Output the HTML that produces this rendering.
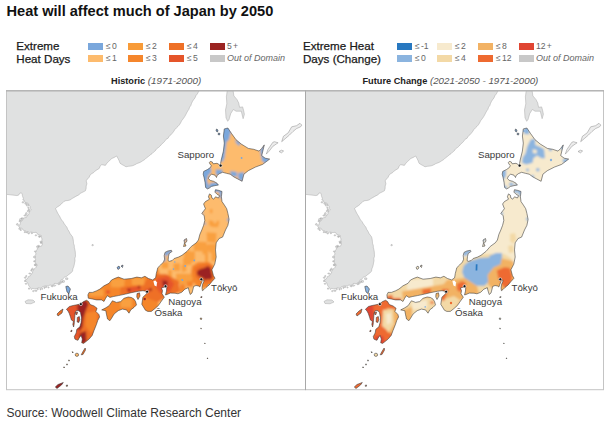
<!DOCTYPE html>
<html><head><meta charset="utf-8">
<style>
html,body{margin:0;padding:0;background:#fff;width:610px;height:422px;overflow:hidden}
body{position:relative;font-family:"Liberation Sans",sans-serif;color:#222}
.t{position:absolute;white-space:nowrap;line-height:1}
.hd{font-size:11.6px;color:#1a1a1a;-webkit-text-stroke:0.25px #1a1a1a}
.sw{position:absolute;width:15px;height:7px}
.cl{position:absolute;white-space:nowrap;line-height:1;font-size:9.7px;color:#3a3a3a}
.lb{position:absolute;white-space:nowrap;line-height:1;font-size:8.6px;color:#666;word-spacing:-1.2px}
</style></head><body>
<div class="t" style="left:6.5px;top:4px;font-size:14.6px;font-weight:bold;color:#111">Heat will affect much of Japan by 2050</div>

<div class="t hd" style="left:16.3px;top:39.8px">Extreme</div>
<div class="t hd" style="left:16.3px;top:52.5px">Heat Days</div>

<div class="sw" style="left:88px;top:43px;background:#7aa7dc"></div><div class="lb" style="left:106px;top:42px">≤ 0</div>
<div class="sw" style="left:88px;top:55px;background:#fdbb6d"></div><div class="lb" style="left:106px;top:54px">≤ 1</div>
<div class="sw" style="left:128px;top:43px;background:#f89b38"></div><div class="lb" style="left:146px;top:42px">≤ 2</div>
<div class="sw" style="left:128px;top:55px;background:#f5862c"></div><div class="lb" style="left:146px;top:54px">≤ 3</div>
<div class="sw" style="left:169px;top:43px;background:#ee7026"></div><div class="lb" style="left:187px;top:42px">≤ 4</div>
<div class="sw" style="left:169px;top:55px;background:#e5552a"></div><div class="lb" style="left:187px;top:54px">≤ 5</div>
<div class="sw" style="left:210px;top:43px;background:#9b2421"></div><div class="lb" style="left:227px;top:42px">5 +</div>
<div class="sw" style="left:210px;top:55px;background:#c8c8c8"></div><div class="lb" style="left:227px;top:54px;font-style:italic;font-size:9px;word-spacing:0">Out of Domain</div>

<div class="t hd" style="left:303px;top:39.8px">Extreme Heat</div>
<div class="t hd" style="left:303px;top:52.5px">Days (Change)</div>

<div class="sw" style="left:397px;top:43px;background:#2878c0"></div><div class="lb" style="left:415px;top:42px">≤ -1</div>
<div class="sw" style="left:397px;top:55px;background:#8bb4df"></div><div class="lb" style="left:415px;top:54px">≤ 0</div>
<div class="sw" style="left:437px;top:43px;background:#f7eace"></div><div class="lb" style="left:455px;top:42px">≤ 2</div>
<div class="sw" style="left:437px;top:55px;background:#f3d9a6"></div><div class="lb" style="left:455px;top:54px">≤ 4</div>
<div class="sw" style="left:478px;top:43px;background:#f2b264"></div><div class="lb" style="left:496px;top:42px">≤ 8</div>
<div class="sw" style="left:478px;top:55px;background:#ee6a30"></div><div class="lb" style="left:496px;top:54px">≤ 12</div>
<div class="sw" style="left:519px;top:43px;background:#e04532"></div><div class="lb" style="left:536px;top:42px">12 +</div>
<div class="sw" style="left:519px;top:55px;background:#c8c8c8"></div><div class="lb" style="left:536px;top:54px;font-style:italic;font-size:9px;word-spacing:0">Out of Domain</div>

<div class="t" style="left:111px;top:76px;font-size:9.2px;color:#222"><b>Historic</b> <i style="color:#555;font-size:9.8px">(1971-2000)</i></div>
<div class="t" style="left:362.5px;top:76px;font-size:9.2px;color:#222"><b>Future Change</b> <i style="color:#555;font-size:9.75px">(2021-2050 - 1971-2000)</i></div>

<svg style="position:absolute;left:0;top:0" width="610" height="422" viewBox="0 0 610 422">
<defs><filter id="bl" x="-5%" y="-5%" width="110%" height="110%"><feGaussianBlur stdDeviation="0.9"/></filter><clipPath id="pc"><rect x="6.5" y="91" width="299" height="299"/></clipPath><clipPath id="jp"><path d="M224.3,128.9 L227.9,128 L231.4,133.3 L235.9,139.6 L241.2,144 L248.3,148.4 L253.7,149.3 L259,151.1 L261.7,148.4 L264.3,144.9 L262.6,152 L261.7,155.6 L265.2,158.2 L269.7,159.1 L266.1,161.8 L262.6,164.4 L255.4,167.1 L248.3,170.7 L243.9,174.2 L242.1,181.3 L237.8,179 L234,177 L230.2,174.2 L226.4,173.3 L222.6,172.3 L219.3,173.7 L217,175.6 L216.5,177.5 L215,175.2 L211.7,174.2 L209.4,176.1 L208.4,178.5 L210.3,180.4 L213.6,181.3 L217,183.2 L218.4,185.1 L215,185.6 L211.3,186.5 L209.4,188 L207.5,188.9 L205.6,187.5 L205.1,182.7 L204.2,178 L203.2,174.2 L203.7,171.4 L207.5,169.5 L210.3,167.6 L211.3,165.7 L209.8,163.8 L209.4,162.4 L210.3,161.4 L212.2,161.9 L213.2,163.8 L217,163.3 L220.3,165.2 L221.2,160 L223.4,151.1 L224.3,143.1 L223.4,136 Z"/><path d="M209.5,193.9 L211.3,195.1 L211.9,198 L213.7,199.2 L215.5,196.8 L218.4,198 L219.6,195.7 L217.3,194.5 L214.9,192.1 L215.5,189.7 L218.4,190.3 L222,191.5 L221.4,196.8 L222,201.6 L224.4,205.1 L226.7,208.7 L227.9,213.4 L229.1,219.4 L227.9,225.3 L225.5,230 L222.6,237.1 L219.1,238.5 L216.2,242.8 L215.5,249.9 L216.2,257 L214.8,264.1 L211.9,269.8 L213.4,275.5 L215,278.2 L212,281.5 L209.2,284.9 L206,287.5 L204,289.5 L202.4,290.7 L202,288 L202.5,284.5 L204,281 L203.5,279.8 L202,281.5 L200.8,284.4 L199.8,287 L198.5,286 L196,285.5 L193.6,286.5 L193.2,288.5 L192,293 L190.2,294.5 L189,290.7 L188.3,287.7 L184.8,289.2 L181.8,292.2 L178,293.8 L175,293.2 L170.3,293.1 L167,294.5 L165.5,294.9 L166.5,291 L166.7,287.5 L165.5,286.8 L163,287.5 L161.4,288 L162.5,290.5 L162,293.7 L164.3,297.2 L161.5,301 L158.4,305.5 L155,308.5 L151.3,311.4 L147.8,311.4 L145.4,310.2 L141.8,304.3 L142.9,297.2 L146.6,293.7 L146,291.3 L143,290.7 L138.3,291.3 L131.2,292.7 L125.5,294.1 L118.4,295.6 L113.2,296.6 L109.9,297.4 L107.4,295.7 L105.7,298.2 L104,301.5 L101.6,299.9 L96.6,299.9 L92.4,299 L88.3,298.2 L87.9,294.9 L89.1,292.4 L92.4,292.4 L96.6,290.8 L99.9,289.1 L104,285.8 L109,283.3 L111.5,280 L115,278.3 L118.4,277.1 L124.1,279.2 L131.2,278.5 L136.9,277.1 L141.4,277.8 L144.9,276.3 L148.5,278.5 L152.7,279.9 L155.6,277.8 L156.3,273.5 L157.8,267.7 L160.7,264.9 L163.5,262 L164.6,259.2 L164.2,255.6 L165,252.4 L167.8,251 L171.3,250.3 L172.1,251.4 L169.2,253.5 L168.5,256.3 L168.1,260.6 L169.2,261.3 L172.1,260.6 L174.2,258.5 L178.5,257.1 L182,255.3 L187.1,251.3 L191.3,246.4 L196.3,242.8 L198.4,240 L199.9,234.3 L201.8,230 L203.6,225.3 L204.8,220.5 L204.2,215.8 L201.8,213.4 L205.4,208.7 L203.6,204 L205.4,201.6 L209.5,199.2 L208.4,196.8 Z"/><path d="M101.7,309.9 L105.8,307.8 L109.1,305.7 L112.4,300.8 L116.6,302.4 L120.7,301.6 L124,298.3 L128.2,297 L131.5,297.5 L134,299.1 L135.6,301.6 L136.5,304.9 L134,307.4 L130.7,309.9 L129,313.2 L126.5,309.9 L122.4,309.1 L118.2,310.7 L114.1,314 L111.6,318.2 L109.9,320.7 L107.5,319 L106.6,314.9 L105.8,310.7 Z"/><path d="M66.4,309.3 L69.4,306.5 L73.1,305.5 L76.8,304.8 L80.5,304 L83.6,301.5 L86.6,300.3 L88.5,301.5 L90.3,304.6 L94,305.9 L97.1,308.3 L95.9,311.4 L98.9,314.5 L99.6,316.9 L97.7,320.6 L96.5,324.3 L94,330.5 L92.2,335.4 L89.1,339.1 L86,341.6 L83.6,343.4 L81.7,342.8 L82.3,339.1 L81.1,335.4 L79.2,337.9 L78,340.3 L76.2,339.7 L74.9,339.1 L74.3,336.6 L76.2,332.9 L76.8,329.3 L79.9,326.8 L81.1,322.5 L81.5,318 L80.5,312.6 L79,310.8 L76.5,310.5 L75,313 L74.8,317 L74.5,320 L74.2,324 L73.6,327 L72.8,324.2 L73.5,321.4 L71.4,320 L70.5,317 L69.3,313.5 L68,311 Z"/><path d="M184,240 L186.5,238.5 L187,241 L185,243.5 L186,246 L183.5,246.5 L184.5,243 Z"/><path d="M137,293.5 L139.5,292.8 L140,296 L138,299.5 L136.8,297 Z"/><path d="M77.3,317.5 L79.3,316.5 L79.8,319.5 L78.8,322.5 L77.2,322 Z"/><path d="M75.5,312.5 L77.5,312 L77,314.5 L75.8,314.5 Z"/><path d="M216.5,129 L218,130 L217.5,132 L216,131 Z"/><path d="M218.5,133 L220,133.5 L219.5,135 L218,134.5 Z"/><path d="M65.8,286.5 L68,286 L70.4,289 L69,293.5 L67,292 Z"/><path d="M57,314 L60,311 L63,309 L62,313 L58,316 Z"/><path d="M117,267.5 L119,266 L120,268 L118,269.5 Z"/><path d="M121,266 L123,265 L122.5,267.5 Z"/><path d="M81.2,354.8 L83.5,350.5 L85.2,348 L85.5,350 L83,354.5 Z"/><path d="M75.2,354.8 A1.7,1.6 0 1,0 78.6,354.8 A1.7,1.6 0 1,0 75.2,354.8 Z"/><path d="M55.3,387 L58,384.5 L63.3,382.5 L61.5,385 L57,388.5 Z"/><path d="M66.3,385.2 L67.6,385 L67.4,386.3 L66.3,386.3 Z"/><path d="M72,351.8 L73.2,352 L72.8,353 Z"/><path d="M68.5,360 L69.5,360.2 L69,361.2 Z"/><path d="M66.5,364 L67.5,364 L67,365.2 Z"/><path d="M63.5,367 L64.5,367 L64.2,368 Z"/><path d="M70.5,331 L72,330 L71.5,332 Z"/><path d="M200.5,297 L202,296.5 L201.5,298 Z"/><path d="M200.3,318 L201.8,318.2 L201.5,319.5 L200.4,319.3 Z"/><path d="M200.6,328.2 L201.4,328.3 L201.2,329.1 Z"/><path d="M204.5,343.2 L205.2,343.3 L205,344 Z"/><path d="M207,358 L207.8,358.1 L207.6,358.9 Z"/></clipPath></defs>
<g transform="translate(0,0)">
<g clip-path="url(#pc)">
<rect x="5" y="90" width="302" height="302" fill="#fff"/>
<g fill="#e0e1e1" stroke="#a0a0a0" stroke-width="0.45">
<path d="M5.0,90.0 L199.5,90.0 L198.4,92.0 L197.3,94.0 L195.9,95.7 L195.0,97.9 L193.6,99.7 L192.4,101.6 L191.5,103.5 L190.8,105.5 L189.6,107.2 L188.9,109.3 L187.7,111.0 L186.6,113.0 L185.6,115.1 L184.4,117.1 L183.0,119.0 L181.6,120.8 L180.6,122.9 L179.4,124.8 L178.0,126.4 L176.4,127.9 L174.9,129.5 L173.7,131.4 L172.4,133.1 L171.0,134.8 L169.2,136.1 L168.1,138.2 L166.1,139.3 L164.8,141.2 L163.3,142.8 L161.6,144.2 L160.2,146.0 L158.5,147.5 L156.6,148.8 L155.4,150.7 L153.6,152.1 L152.0,153.7 L150.1,155.0 L148.3,156.6 L146.4,157.9 L144.7,159.6 L142.7,160.8 L140.9,162.0 L138.9,162.9 L136.8,163.6 L135.0,164.7 L133.0,165.6 L130.7,166.1 L128.3,166.3 L126.0,166.8 L124.0,165.6 L121.9,164.5 L120.0,163.2 L119.1,160.7 L117.9,158.3 L116.6,156.0 L114.3,157.4 L111.8,158.5 L110.2,160.0 L108.6,161.5 L107.0,163.0 L105.4,165.4 L101.5,164.6 L100.1,166.4 L99.2,168.5 L96.8,169.9 L94.6,171.5 L93.2,172.9 L91.3,173.8 L90.0,175.4 L89.0,177.4 L87.5,179.0 L86.2,180.8 L86.9,183.8 L86.2,186.1 L86.1,188.5 L85.4,190.8 L83.1,192.0 L80.8,193.1 L78.7,194.9 L76.2,196.2 L74.1,197.4 L72.0,198.6 L70.0,200.0 L67.9,200.5 L65.8,200.7 L63.8,201.5 L61.2,204.2 L59.4,205.7 L57.3,207.0 L55.5,208.5 L56.4,210.4 L57.3,212.3 L58.3,214.2 L59.5,216.1 L60.5,218.1 L61.6,220.0 L63.1,221.7 L64.2,223.7 L65.5,225.5 L66.9,227.2 L67.7,229.4 L69.0,231.3 L69.9,233.3 L71.2,235.1 L72.6,236.9 L73.1,239.0 L73.4,241.2 L73.5,243.3 L74.3,245.4 L74.4,247.6 L74.9,249.7 L75.3,251.8 L75.4,254.0 L75.5,256.3 L74.8,258.5 L75.0,260.8 L74.5,263.0 L74.2,265.1 L73.6,267.1 L72.8,269.0 L72.6,271.1 L70.9,273.0 L68.9,274.4 L67.0,276.0 L65.8,276.8 L64.4,277.3 L63.3,278.3 L62.6,279.6 L61.1,279.9 L60.6,281.6 L59.3,282.3 L58.2,283.2 L56.9,283.9 L55.4,283.4 L54.0,283.5 L52.9,285.2 L51.5,285.4 L50.0,285.0 L48.6,285.8 L47.2,286.1 L45.6,286.0 L44.1,286.2 L42.7,286.7 L41.5,287.5 L40.3,288.3 L38.7,287.9 L37.4,288.4 L36.0,288.5 L34.4,288.8 L32.7,288.4 L31.3,289.6 L30.7,288.0 L29.5,286.7 L28.5,285.3 L28.0,283.8 L27.3,282.3 L25.6,281.4 L25.6,279.6 L27.1,279.1 L27.9,277.9 L28.5,276.5 L30.4,275.7 L31.3,273.9 L32.5,273.1 L32.6,271.6 L33.4,270.6 L33.7,269.2 L35.0,268.5 L36.2,267.1 L37.0,265.4 L35.9,264.2 L35.5,262.7 L35.4,261.3 L35.6,259.7 L35.1,258.2 L35.5,256.8 L35.1,255.4 L36.0,254.0 L35.5,252.4 L36.1,251.0 L37.0,249.7 L37.4,248.2 L38.7,247.6 L39.2,246.2 L41.3,246.4 L41.9,245.1 L42.7,244.0 L41.8,242.4 L41.8,240.7 L42.0,239.0 L41.4,237.3 L41.3,235.5 L39.8,235.1 L38.2,235.0 L37.2,233.2 L35.9,232.4 L34.1,232.6 L32.6,232.4 L31.0,232.1 L29.4,232.5 L28.0,231.5 L26.5,231.8 L25.3,230.9 L24.0,230.6 L22.8,229.8 L22.1,228.3 L20.2,228.1 L19.0,227.2 L18.5,225.5 L20.0,224.8 L20.3,223.3 L20.6,221.7 L22.0,221.0 L22.8,219.8 L23.2,218.1 L24.9,217.7 L26.6,217.3 L27.0,215.6 L28.4,214.9 L29.0,213.5 L29.2,211.9 L30.2,210.9 L31.3,209.9 L30.1,208.7 L30.3,206.8 L29.3,205.6 L28.5,204.2 L27.7,203.0 L26.0,202.8 L24.8,202.1 L24.3,200.4 L22.8,200.0 L23.4,198.4 L22.8,197.0 L22.4,195.6 L22.2,194.1 L21.3,192.8 L19.6,193.4 L18.7,195.1 L17.0,195.6 L5.0,194.2 Z"/>
<path d="M91.8,244.9 L93,244.2 L93.4,245.5 L92.2,245.9 Z"/>
<path d="M25,301.5 L28,299.8 L33,300 L35,302 L31,303.8 L26,303.5 Z"/>
<path d="M227.3,90 L233,90 L233.9,95.9 L236.9,99.4 L238.7,102.9 L239.6,107.3 L242.6,106.9 L243.5,109.9 L244.4,114.3 L243.1,118.7 L241.8,113.4 L241.3,111.2 L236,111.2 L233.4,109.5 L230.8,113.4 L229,119.6 L227.7,121.3 L226,117.8 L225.5,109.9 L226.8,103.8 L226.4,96.8 Z"/>
<path d="M65.6,278.7 A1.2,0.7 0 1,0 67.9,278.7 A1.2,0.7 0 1,0 65.6,278.7 Z M62.5,281.4 A1.0,0.8 0 1,0 64.4,281.4 A1.0,0.8 0 1,0 62.5,281.4 Z M60.9,281.9 A0.9,0.6 0 1,0 62.7,281.9 A0.9,0.6 0 1,0 60.9,281.9 Z M59.0,283.1 A1.1,0.7 0 1,0 61.3,283.1 A1.1,0.7 0 1,0 59.0,283.1 Z M57.9,284.2 A0.9,0.5 0 1,0 59.8,284.2 A0.9,0.5 0 1,0 57.9,284.2 Z M53.3,285.5 A1.2,0.7 0 1,0 55.7,285.5 A1.2,0.7 0 1,0 53.3,285.5 Z M51.2,286.3 A1.0,0.5 0 1,0 53.2,286.3 A1.0,0.5 0 1,0 51.2,286.3 Z M47.8,287.5 A0.7,0.5 0 1,0 49.2,287.5 A0.7,0.5 0 1,0 47.8,287.5 Z M45.4,287.0 A0.7,0.6 0 1,0 46.8,287.0 A0.7,0.6 0 1,0 45.4,287.0 Z M43.8,287.7 A0.7,0.7 0 1,0 45.2,287.7 A0.7,0.7 0 1,0 43.8,287.7 Z M41.7,288.7 A0.5,0.8 0 1,0 42.7,288.7 A0.5,0.8 0 1,0 41.7,288.7 Z M40.0,289.4 A0.5,0.7 0 1,0 41.0,289.4 A0.5,0.7 0 1,0 40.0,289.4 Z M37.3,289.1 A0.5,0.5 0 1,0 38.4,289.1 A0.5,0.5 0 1,0 37.3,289.1 Z M34.7,290.7 A1.2,0.5 0 1,0 37.0,290.7 A1.2,0.5 0 1,0 34.7,290.7 Z M32.6,291.1 A0.6,0.7 0 1,0 33.8,291.1 A0.6,0.7 0 1,0 32.6,291.1 Z M28.5,288.6 A0.6,0.5 0 1,0 29.6,288.6 A0.6,0.5 0 1,0 28.5,288.6 Z M25.1,283.8 A0.9,0.5 0 1,0 26.9,283.8 A0.9,0.5 0 1,0 25.1,283.8 Z M24.4,281.0 A0.6,0.7 0 1,0 25.6,281.0 A0.6,0.7 0 1,0 24.4,281.0 Z M24.3,277.7 A0.9,0.6 0 1,0 26.1,277.7 A0.9,0.6 0 1,0 24.3,277.7 Z M25.5,276.1 A0.8,0.6 0 1,0 27.1,276.1 A0.8,0.6 0 1,0 25.5,276.1 Z M28.7,273.5 A1.1,0.5 0 1,0 30.9,273.5 A1.1,0.5 0 1,0 28.7,273.5 Z M30.9,270.4 A0.6,0.6 0 1,0 32.0,270.4 A0.6,0.6 0 1,0 30.9,270.4 Z M31.6,269.0 A0.8,0.8 0 1,0 33.3,269.0 A0.8,0.8 0 1,0 31.6,269.0 Z M34.3,265.2 A1.0,0.6 0 1,0 36.3,265.2 A1.0,0.6 0 1,0 34.3,265.2 Z M34.4,264.6 A1.2,0.8 0 1,0 36.8,264.6 A1.2,0.8 0 1,0 34.4,264.6 Z M33.8,261.3 A0.6,0.5 0 1,0 34.9,261.3 A0.6,0.5 0 1,0 33.8,261.3 Z M33.3,257.0 A1.0,0.7 0 1,0 35.4,257.0 A1.0,0.7 0 1,0 33.3,257.0 Z M34.4,251.4 A0.7,0.6 0 1,0 35.8,251.4 A0.7,0.6 0 1,0 34.4,251.4 Z M36.6,246.7 A1.0,0.6 0 1,0 38.5,246.7 A1.0,0.6 0 1,0 36.6,246.7 Z M37.6,246.0 A1.0,0.6 0 1,0 39.6,246.0 A1.0,0.6 0 1,0 37.6,246.0 Z M40.4,242.9 A0.7,0.7 0 1,0 41.9,242.9 A0.7,0.7 0 1,0 40.4,242.9 Z M39.9,241.8 A1.1,0.7 0 1,0 42.1,241.8 A1.1,0.7 0 1,0 39.9,241.8 Z M39.2,236.5 A0.6,0.7 0 1,0 40.5,236.5 A0.6,0.7 0 1,0 39.2,236.5 Z M38.3,236.7 A1.0,0.5 0 1,0 40.3,236.7 A1.0,0.5 0 1,0 38.3,236.7 Z M35.1,235.3 A0.8,0.6 0 1,0 36.7,235.3 A0.8,0.6 0 1,0 35.1,235.3 Z M31.3,233.2 A0.6,0.6 0 1,0 32.5,233.2 A0.6,0.6 0 1,0 31.3,233.2 Z M27.8,233.5 A0.9,0.4 0 1,0 29.6,233.5 A0.9,0.4 0 1,0 27.8,233.5 Z M26.3,232.4 A0.7,0.5 0 1,0 27.8,232.4 A0.7,0.5 0 1,0 26.3,232.4 Z M24.1,232.1 A0.8,0.6 0 1,0 25.7,232.1 A0.8,0.6 0 1,0 24.1,232.1 Z M20.0,230.0 A0.8,0.5 0 1,0 21.6,230.0 A0.8,0.5 0 1,0 20.0,230.0 Z M18.8,228.8 A0.8,0.4 0 1,0 20.3,228.8 A0.8,0.4 0 1,0 18.8,228.8 Z M16.4,224.4 A0.9,0.8 0 1,0 18.3,224.4 A0.9,0.8 0 1,0 16.4,224.4 Z M18.8,221.1 A0.9,0.5 0 1,0 20.7,221.1 A0.9,0.5 0 1,0 18.8,221.1 Z M19.7,219.5 A1.2,0.8 0 1,0 22.0,219.5 A1.2,0.8 0 1,0 19.7,219.5 Z M21.5,218.4 A0.6,0.6 0 1,0 22.6,218.4 A0.6,0.6 0 1,0 21.5,218.4 Z M23.9,215.5 A1.1,0.6 0 1,0 26.2,215.5 A1.1,0.6 0 1,0 23.9,215.5 Z M25.6,213.7 A0.8,0.8 0 1,0 27.1,213.7 A0.8,0.8 0 1,0 25.6,213.7 Z M27.3,211.1 A1.2,0.6 0 1,0 29.6,211.1 A1.2,0.6 0 1,0 27.3,211.1 Z M28.2,209.7 A0.7,0.6 0 1,0 29.6,209.7 A0.7,0.6 0 1,0 28.2,209.7 Z M27.7,207.8 A0.7,0.7 0 1,0 29.1,207.8 A0.7,0.7 0 1,0 27.7,207.8 Z M26.3,205.2 A1.2,0.7 0 1,0 28.6,205.2 A1.2,0.7 0 1,0 26.3,205.2 Z M24.6,203.7 A1.2,0.5 0 1,0 27.0,203.7 A1.2,0.5 0 1,0 24.6,203.7 Z M22.1,202.3 A0.9,0.7 0 1,0 23.9,202.3 A0.9,0.7 0 1,0 22.1,202.3 Z"/>
</g>
<g fill="#ececec" stroke="#8a8a8a" stroke-width="0.5">
<path d="M266.3,154.1 L268,149.4 L272.8,142.3 L274.5,141.7 L278.1,142.8 L276.3,144 L272.8,146.4 L269.2,151.1 Z"/>
<path d="M281.7,141.7 L283.4,136.3 L288.2,132.8 L291.7,126.8 L296.5,125.7 L300,123.3 L301.8,125.1 L300.6,126.8 L296.5,128.6 L292.9,131.6 L289.4,135.1 L285.2,138.7 Z"/>
<path d="M279,151.5 L281.5,150.2 L283.6,151 L281.5,152.8 Z"/>
</g>
<g clip-path="url(#jp)"><g filter="url(#bl)">
<rect x="50" y="120" width="230" height="270" fill="#fdbb6d"/>
<path fill="#7aa7dc" d="M221,126 L229,126 L231.5,132 L228.5,136 L226.5,142 L225.5,150 L224.5,158 L222.5,162 L219,161 L220,150 L221,138 Z"/>
<path fill="#7aa7dc" d="M214,127 L221,127 L221,137 L214,137 Z"/>
<path fill="#7aa7dc" d="M235,139 L241,143 L239,146 L236,143 Z"/>
<path fill="#7aa7dc" d="M260,150 L266,142 L264,153 L263,156 L271,158 L266,164 L262,161 L261,156 Z"/>
<path fill="#7aa7dc" d="M230,171 L237,172 L237,177 L231,176 Z"/>
<path fill="#7aa7dc" d="M238,173 L244,172 L244,183 L238,179 Z"/>
<path fill="#7aa7dc" d="M215.5,169.5 L222.5,169.5 L222.5,174 L216,175.5 Z"/>
<path fill="#7aa7dc" d="M200,167 L210.5,166.5 L211.5,172 L208,176 L207,181 L209,186 L207,191 L200,190 Z"/>
<path fill="#7aa7dc" d="M210,183 L220,182 L220,192 L208,192 Z"/>
<path fill="#7aa7dc" d="M223,128 L231,131 L229,140 L226,142 L224,136 Z"/>
<path fill="#7aa7dc" d="M219,189 L223,189 L222,200 L219.5,197 Z"/>
<path fill="#f9a040" d="M209,220 L213,221 L215,224 L218,220 L219.5,222 L218,227.3 L212,227 L209,225 Z"/>
<path fill="#f9a040" d="M209.9,209 L212.4,209 L212.4,213.2 L209.9,213.2 Z"/>
<path fill="#f9a040" d="M206.6,232.3 L216.5,233 L216,243 L207,242 Z"/>
<path fill="#f9a040" d="M193.3,241.4 L206.6,242 L206.6,251.4 L194,251 Z"/>
<path fill="#f9a040" d="M208,244 L216.5,244 L216,251.4 L208,251 Z"/>
<path fill="#f9a040" d="M188.3,251.4 L195,251.4 L195,258 L188.3,258 Z"/>
<path fill="#f9a040" d="M211.5,251.4 L216.5,251.4 L216.5,261.3 L211.5,261.3 Z"/>
<path fill="#f9a040" d="M204.9,244.8 L208.2,244.8 L208.2,265 L204.9,265 Z"/>
<path fill="#f9a040" d="M183,258 L191.6,258 L191.6,265 L183,265 Z"/>
<path fill="#7aa7dc" d="M201.6,212.4 L203.6,212.4 L203.6,214.4 L201.6,214.4 Z"/>
<path fill="#7aa7dc" d="M204,222.4 L205.7,222.4 L205.7,224.9 L204,224.9 Z"/>
<path fill="#7aa7dc" d="M227.3,218.2 L230,218.2 L230,221.5 L227.3,221.5 Z"/>
<path fill="#7aa7dc" d="M192.5,258 L195,258 L195,261.3 L192.5,261.3 Z"/>
<path fill="#7aa7dc" d="M183.5,239 L186,238 L186,241 L183.5,242 Z"/>
<path fill="#7aa7dc" d="M115,264 L124,264 L124,271 L115,271 Z"/>
<path fill="#7aa7dc" d="M164,252.5 L168,250 L173,249 L172,252 L169,254 L167,256 L164.5,256 Z"/>
<path fill="#f9a040" d="M173.5,263.3 L180,263.3 L180,271 L173.5,271 Z"/>
<path fill="#f9a040" d="M183.9,252.8 L189.1,252.8 L189.1,262 L183.9,262 Z"/>
<path fill="#f9a040" d="M161.7,262 L168.3,262 L168.3,268.5 L161.7,268.5 Z"/>
<path fill="#f9a040" d="M176,273.7 L186.5,273.7 L186.5,284 L176,284 Z"/>
<path fill="#f9a040" d="M168,270 L172,270 L172,278 L168,278 Z"/>
<path fill="#f9a040" d="M190,256 L195,256 L195,262 L190,262 Z"/>
<path fill="#7aa7dc" d="M163,258 L166,257 L165,262 L163,261 Z"/>
<path fill="#7aa7dc" d="M170,251 L172.5,250 L172,252.5 Z"/>
<path fill="#f5862c" d="M40,270 L150,270 L158,268 L160,276 L158,300 L160,320 L40,360 Z"/>
<path fill="#f9a040" d="M110.6,279 L124.8,279 L124,287.7 L111,287 Z"/>
<path fill="#f9a040" d="M89.3,290.6 L103.5,289 L103.5,296.3 L89.3,296.3 Z"/>
<path fill="#f9a040" d="M131.9,277.8 L144.7,277.8 L144,284.9 L132,284.9 Z"/>
<path fill="#f9a040" d="M120.5,299 L131.9,299 L131.9,307.6 L120.5,307.6 Z"/>
<path fill="#ee7026" d="M120.5,287 L147.5,285.5 L147.5,295.5 L120.5,295.5 Z"/>
<path fill="#f5862c" d="M186.5,279 L193,279 L193,286.7 L186.5,286.7 Z"/>
<path fill="#ee7026" d="M150,274 L166,274 L178.7,281 L180,292 L168,296 L158,302 L146,298 L142,288 Z"/>
<path fill="#e5552a" d="M157,278 L168,276 L174,284 L170,292 L160,293 L155,286 Z"/>
<path fill="#9b2421" d="M162.4,280.2 L167.6,281 L167,288 L163,287.5 Z"/>
<path fill="#e5552a" d="M144.5,291 A2.5,2.5 0 1,0 149.5,291 A2.5,2.5 0 1,0 144.5,291 Z"/>
<path fill="#9b2421" d="M149.0,289.5 A1.5,1.5 0 1,0 152.0,289.5 A1.5,1.5 0 1,0 149.0,289.5 Z"/>
<path fill="#e5552a" d="M126,288 L140,285.5 L141,291 L128,293 Z"/>
<path fill="#9b2421" d="M127.5,290 A1.5,1.5 0 1,0 130.5,290 A1.5,1.5 0 1,0 127.5,290 Z"/>
<path fill="#9b2421" d="M137.7,287 A1.3,1.3 0 1,0 140.3,287 A1.3,1.3 0 1,0 137.7,287 Z"/>
<path fill="#e5552a" d="M106,292 A2,2 0 1,0 110,292 A2,2 0 1,0 106,292 Z"/>
<path fill="#f9a040" d="M184,251 L190,250.4 L191,258 L185,259 Z"/>
<path fill="#f9a040" d="M202.5,244 L205.5,243 L205.5,254 L202.5,254.5 Z"/>
<path fill="#f9a040" d="M209.5,245 L212.5,245 L212.5,253 L209.5,253 Z"/>
<path fill="#f9a040" d="M181.5,265 L186,264 L186.5,271 L182,272 Z"/>
<path fill="#f9a040" d="M186,274 L192,273.5 L192.5,281 L186.5,281.5 Z"/>
<path fill="#f5862c" d="M180,284.3 L185.2,284.3 L186,292.2 L180,292.2 Z"/>
<path fill="#f5862c" d="M192,266 L198,262 L209,262 L214,266 L216,276 L214,283 L206,288 L198,288 L193,282 L191,272 Z"/>
<path fill="#ee7026" d="M194,268 L200,265 L208,263.5 L212.5,266 L214,273 L214.5,279 L211.5,283 L206,284 L200,281 L195.5,277 Z"/>
<path fill="#9b2421" d="M197,271.3 L199.6,269.3 L204.1,268 L208,266.1 L210.6,268 L211.3,272.6 L212.6,277.2 L210,279.8 L207.4,279.1 L205.4,280.4 L202.8,277.8 L199.6,276.5 L197,274.6 Z"/>
<path fill="#ee7026" d="M60,300 L100,300 L102,350 L60,350 Z"/>
<path fill="#e5552a" d="M64,306 L80,304 L82,322 L80,332 L76,342 L66,330 Z"/>
<path fill="#9b2421" d="M79,302 L86,300 L88.5,304 L86,310 L83.5,318 L82.5,327 L80,331 L77.5,328 L79.5,318 L77,307 Z"/>
<path fill="#9b2421" d="M80,333 L86,331 L86.5,342 L82,344.5 L79,338 Z"/>
<path fill="#f5862c" d="M86.5,313 L97,311 L97,326 L91,333 L85.5,326 Z"/>
<path fill="#ee7026" d="M80,346 L88,346 L88,356 L80,356 Z"/>
<path fill="#9b2421" d="M54,380 L66,380 L68,390 L54,390 Z"/>
<path fill="#7aa7dc" d="M64,284 L72,284 L72,295 L64,295 Z"/>
<path fill="#ee7026" d="M54,307 L65,307 L65,318 L54,318 Z"/>
<path fill="#9b2421" d="M200,295 L204,295 L204,299 L200,299 Z"/>
</g>
<path fill="#7aa7dc" d="M240.7,158 A0.9,0.9 0 1,0 242.5,158 A0.9,0.9 0 1,0 240.7,158 Z"/>
<path fill="#7aa7dc" d="M172.7,269.1 A0.8,0.8 0 1,0 174.3,269.1 A0.8,0.8 0 1,0 172.7,269.1 Z"/>
<path fill="#7aa7dc" d="M184.39999999999998,265.9 A0.8,0.8 0 1,0 186.0,265.9 A0.8,0.8 0 1,0 184.39999999999998,265.9 Z"/>
<path fill="#7aa7dc" d="M193.5,260.6 A0.8,0.8 0 1,0 195.10000000000002,260.6 A0.8,0.8 0 1,0 193.5,260.6 Z"/>
<path fill="#7aa7dc" d="M181.79999999999998,280.2 A0.8,0.8 0 1,0 183.4,280.2 A0.8,0.8 0 1,0 181.79999999999998,280.2 Z"/>
<path fill="#7aa7dc" d="M174.10000000000002,262 A0.7,0.7 0 1,0 175.5,262 A0.7,0.7 0 1,0 174.10000000000002,262 Z"/>
<path fill="#9b2421" d="M143.5,299 A1.2,1.2 0 1,0 145.89999999999998,299 A1.2,1.2 0 1,0 143.5,299 Z"/>
<path fill="#7aa7dc" d="M193.5,260.2 A0.8,0.8 0 1,0 195.10000000000002,260.2 A0.8,0.8 0 1,0 193.5,260.2 Z"/>
<path fill="#7aa7dc" d="M184.39999999999998,266.1 A0.8,0.8 0 1,0 186.0,266.1 A0.8,0.8 0 1,0 184.39999999999998,266.1 Z"/>
<path fill="#7aa7dc" d="M181.2,279.8 A0.8,0.8 0 1,0 182.8,279.8 A0.8,0.8 0 1,0 181.2,279.8 Z"/>
<path fill="#7aa7dc" d="M207.89999999999998,285 A0.8,0.8 0 1,0 209.5,285 A0.8,0.8 0 1,0 207.89999999999998,285 Z"/>
</g>
<path d="M153.5,281 L155.5,280.5 L157,282.5 L156.5,286.5 L154.5,285.5 L153.8,283 Z" fill="#fff"/>
<g fill="none" stroke="#333" stroke-width="0.55">
<path d="M224.3,128.9 L227.9,128 L231.4,133.3 L235.9,139.6 L241.2,144 L248.3,148.4 L253.7,149.3 L259,151.1 L261.7,148.4 L264.3,144.9 L262.6,152 L261.7,155.6 L265.2,158.2 L269.7,159.1 L266.1,161.8 L262.6,164.4 L255.4,167.1 L248.3,170.7 L243.9,174.2 L242.1,181.3 L237.8,179 L234,177 L230.2,174.2 L226.4,173.3 L222.6,172.3 L219.3,173.7 L217,175.6 L216.5,177.5 L215,175.2 L211.7,174.2 L209.4,176.1 L208.4,178.5 L210.3,180.4 L213.6,181.3 L217,183.2 L218.4,185.1 L215,185.6 L211.3,186.5 L209.4,188 L207.5,188.9 L205.6,187.5 L205.1,182.7 L204.2,178 L203.2,174.2 L203.7,171.4 L207.5,169.5 L210.3,167.6 L211.3,165.7 L209.8,163.8 L209.4,162.4 L210.3,161.4 L212.2,161.9 L213.2,163.8 L217,163.3 L220.3,165.2 L221.2,160 L223.4,151.1 L224.3,143.1 L223.4,136 Z"/>
<path d="M209.5,193.9 L211.3,195.1 L211.9,198 L213.7,199.2 L215.5,196.8 L218.4,198 L219.6,195.7 L217.3,194.5 L214.9,192.1 L215.5,189.7 L218.4,190.3 L222,191.5 L221.4,196.8 L222,201.6 L224.4,205.1 L226.7,208.7 L227.9,213.4 L229.1,219.4 L227.9,225.3 L225.5,230 L222.6,237.1 L219.1,238.5 L216.2,242.8 L215.5,249.9 L216.2,257 L214.8,264.1 L211.9,269.8 L213.4,275.5 L215,278.2 L212,281.5 L209.2,284.9 L206,287.5 L204,289.5 L202.4,290.7 L202,288 L202.5,284.5 L204,281 L203.5,279.8 L202,281.5 L200.8,284.4 L199.8,287 L198.5,286 L196,285.5 L193.6,286.5 L193.2,288.5 L192,293 L190.2,294.5 L189,290.7 L188.3,287.7 L184.8,289.2 L181.8,292.2 L178,293.8 L175,293.2 L170.3,293.1 L167,294.5 L165.5,294.9 L166.5,291 L166.7,287.5 L165.5,286.8 L163,287.5 L161.4,288 L162.5,290.5 L162,293.7 L164.3,297.2 L161.5,301 L158.4,305.5 L155,308.5 L151.3,311.4 L147.8,311.4 L145.4,310.2 L141.8,304.3 L142.9,297.2 L146.6,293.7 L146,291.3 L143,290.7 L138.3,291.3 L131.2,292.7 L125.5,294.1 L118.4,295.6 L113.2,296.6 L109.9,297.4 L107.4,295.7 L105.7,298.2 L104,301.5 L101.6,299.9 L96.6,299.9 L92.4,299 L88.3,298.2 L87.9,294.9 L89.1,292.4 L92.4,292.4 L96.6,290.8 L99.9,289.1 L104,285.8 L109,283.3 L111.5,280 L115,278.3 L118.4,277.1 L124.1,279.2 L131.2,278.5 L136.9,277.1 L141.4,277.8 L144.9,276.3 L148.5,278.5 L152.7,279.9 L155.6,277.8 L156.3,273.5 L157.8,267.7 L160.7,264.9 L163.5,262 L164.6,259.2 L164.2,255.6 L165,252.4 L167.8,251 L171.3,250.3 L172.1,251.4 L169.2,253.5 L168.5,256.3 L168.1,260.6 L169.2,261.3 L172.1,260.6 L174.2,258.5 L178.5,257.1 L182,255.3 L187.1,251.3 L191.3,246.4 L196.3,242.8 L198.4,240 L199.9,234.3 L201.8,230 L203.6,225.3 L204.8,220.5 L204.2,215.8 L201.8,213.4 L205.4,208.7 L203.6,204 L205.4,201.6 L209.5,199.2 L208.4,196.8 Z"/>
<path d="M101.7,309.9 L105.8,307.8 L109.1,305.7 L112.4,300.8 L116.6,302.4 L120.7,301.6 L124,298.3 L128.2,297 L131.5,297.5 L134,299.1 L135.6,301.6 L136.5,304.9 L134,307.4 L130.7,309.9 L129,313.2 L126.5,309.9 L122.4,309.1 L118.2,310.7 L114.1,314 L111.6,318.2 L109.9,320.7 L107.5,319 L106.6,314.9 L105.8,310.7 Z"/>
<path d="M66.4,309.3 L69.4,306.5 L73.1,305.5 L76.8,304.8 L80.5,304 L83.6,301.5 L86.6,300.3 L88.5,301.5 L90.3,304.6 L94,305.9 L97.1,308.3 L95.9,311.4 L98.9,314.5 L99.6,316.9 L97.7,320.6 L96.5,324.3 L94,330.5 L92.2,335.4 L89.1,339.1 L86,341.6 L83.6,343.4 L81.7,342.8 L82.3,339.1 L81.1,335.4 L79.2,337.9 L78,340.3 L76.2,339.7 L74.9,339.1 L74.3,336.6 L76.2,332.9 L76.8,329.3 L79.9,326.8 L81.1,322.5 L81.5,318 L80.5,312.6 L79,310.8 L76.5,310.5 L75,313 L74.8,317 L74.5,320 L74.2,324 L73.6,327 L72.8,324.2 L73.5,321.4 L71.4,320 L70.5,317 L69.3,313.5 L68,311 Z"/>
<path d="M184,240 L186.5,238.5 L187,241 L185,243.5 L186,246 L183.5,246.5 L184.5,243 Z"/>
<path d="M137,293.5 L139.5,292.8 L140,296 L138,299.5 L136.8,297 Z"/>
<path d="M77.3,317.5 L79.3,316.5 L79.8,319.5 L78.8,322.5 L77.2,322 Z"/>
<path d="M75.5,312.5 L77.5,312 L77,314.5 L75.8,314.5 Z"/>
<path d="M216.5,129 L218,130 L217.5,132 L216,131 Z"/>
<path d="M218.5,133 L220,133.5 L219.5,135 L218,134.5 Z"/>
<path d="M65.8,286.5 L68,286 L70.4,289 L69,293.5 L67,292 Z"/>
<path d="M57,314 L60,311 L63,309 L62,313 L58,316 Z"/>
<path d="M117,267.5 L119,266 L120,268 L118,269.5 Z"/>
<path d="M121,266 L123,265 L122.5,267.5 Z"/>
<path d="M81.2,354.8 L83.5,350.5 L85.2,348 L85.5,350 L83,354.5 Z"/>
<path d="M75.2,354.8 A1.7,1.6 0 1,0 78.6,354.8 A1.7,1.6 0 1,0 75.2,354.8 Z"/>
<path d="M55.3,387 L58,384.5 L63.3,382.5 L61.5,385 L57,388.5 Z"/>
<path d="M66.3,385.2 L67.6,385 L67.4,386.3 L66.3,386.3 Z"/>
<path d="M72,351.8 L73.2,352 L72.8,353 Z"/>
<path d="M68.5,360 L69.5,360.2 L69,361.2 Z"/>
<path d="M66.5,364 L67.5,364 L67,365.2 Z"/>
<path d="M63.5,367 L64.5,367 L64.2,368 Z"/>
<path d="M70.5,331 L72,330 L71.5,332 Z"/>
<path d="M200.5,297 L202,296.5 L201.5,298 Z"/>
<path d="M200.3,318 L201.8,318.2 L201.5,319.5 L200.4,319.3 Z"/>
<path d="M200.6,328.2 L201.4,328.3 L201.2,329.1 Z"/>
<path d="M204.5,343.2 L205.2,343.3 L205,344 Z"/>
<path d="M207,358 L207.8,358.1 L207.6,358.9 Z"/>
</g>
</g>
<circle cx="220.6" cy="165.6" r="1.5" fill="#111" stroke="#fff" stroke-width="0.6"/>
<circle cx="201.3" cy="279.3" r="1.5" fill="#111" stroke="#fff" stroke-width="0.6"/>
<circle cx="165.5" cy="286.2" r="1.5" fill="#111" stroke="#fff" stroke-width="0.6"/>
<circle cx="147.1" cy="291.7" r="1.5" fill="#111" stroke="#fff" stroke-width="0.6"/>
<circle cx="80.9" cy="304.1" r="1.5" fill="#111" stroke="#fff" stroke-width="0.6"/>
</g>
<g transform="translate(299,0)">
<g clip-path="url(#pc)">
<rect x="5" y="90" width="302" height="302" fill="#fff"/>
<g fill="#e0e1e1" stroke="#a0a0a0" stroke-width="0.45">
<path d="M5.0,90.0 L199.5,90.0 L198.4,92.0 L197.3,94.0 L195.9,95.7 L195.0,97.9 L193.6,99.7 L192.4,101.6 L191.5,103.5 L190.8,105.5 L189.6,107.2 L188.9,109.3 L187.7,111.0 L186.6,113.0 L185.6,115.1 L184.4,117.1 L183.0,119.0 L181.6,120.8 L180.6,122.9 L179.4,124.8 L178.0,126.4 L176.4,127.9 L174.9,129.5 L173.7,131.4 L172.4,133.1 L171.0,134.8 L169.2,136.1 L168.1,138.2 L166.1,139.3 L164.8,141.2 L163.3,142.8 L161.6,144.2 L160.2,146.0 L158.5,147.5 L156.6,148.8 L155.4,150.7 L153.6,152.1 L152.0,153.7 L150.1,155.0 L148.3,156.6 L146.4,157.9 L144.7,159.6 L142.7,160.8 L140.9,162.0 L138.9,162.9 L136.8,163.6 L135.0,164.7 L133.0,165.6 L130.7,166.1 L128.3,166.3 L126.0,166.8 L124.0,165.6 L121.9,164.5 L120.0,163.2 L119.1,160.7 L117.9,158.3 L116.6,156.0 L114.3,157.4 L111.8,158.5 L110.2,160.0 L108.6,161.5 L107.0,163.0 L105.4,165.4 L101.5,164.6 L100.1,166.4 L99.2,168.5 L96.8,169.9 L94.6,171.5 L93.2,172.9 L91.3,173.8 L90.0,175.4 L89.0,177.4 L87.5,179.0 L86.2,180.8 L86.9,183.8 L86.2,186.1 L86.1,188.5 L85.4,190.8 L83.1,192.0 L80.8,193.1 L78.7,194.9 L76.2,196.2 L74.1,197.4 L72.0,198.6 L70.0,200.0 L67.9,200.5 L65.8,200.7 L63.8,201.5 L61.2,204.2 L59.4,205.7 L57.3,207.0 L55.5,208.5 L56.4,210.4 L57.3,212.3 L58.3,214.2 L59.5,216.1 L60.5,218.1 L61.6,220.0 L63.1,221.7 L64.2,223.7 L65.5,225.5 L66.9,227.2 L67.7,229.4 L69.0,231.3 L69.9,233.3 L71.2,235.1 L72.6,236.9 L73.1,239.0 L73.4,241.2 L73.5,243.3 L74.3,245.4 L74.4,247.6 L74.9,249.7 L75.3,251.8 L75.4,254.0 L75.5,256.3 L74.8,258.5 L75.0,260.8 L74.5,263.0 L74.2,265.1 L73.6,267.1 L72.8,269.0 L72.6,271.1 L70.9,273.0 L68.9,274.4 L67.0,276.0 L65.8,276.8 L64.4,277.3 L63.3,278.3 L62.6,279.6 L61.1,279.9 L60.6,281.6 L59.3,282.3 L58.2,283.2 L56.9,283.9 L55.4,283.4 L54.0,283.5 L52.9,285.2 L51.5,285.4 L50.0,285.0 L48.6,285.8 L47.2,286.1 L45.6,286.0 L44.1,286.2 L42.7,286.7 L41.5,287.5 L40.3,288.3 L38.7,287.9 L37.4,288.4 L36.0,288.5 L34.4,288.8 L32.7,288.4 L31.3,289.6 L30.7,288.0 L29.5,286.7 L28.5,285.3 L28.0,283.8 L27.3,282.3 L25.6,281.4 L25.6,279.6 L27.1,279.1 L27.9,277.9 L28.5,276.5 L30.4,275.7 L31.3,273.9 L32.5,273.1 L32.6,271.6 L33.4,270.6 L33.7,269.2 L35.0,268.5 L36.2,267.1 L37.0,265.4 L35.9,264.2 L35.5,262.7 L35.4,261.3 L35.6,259.7 L35.1,258.2 L35.5,256.8 L35.1,255.4 L36.0,254.0 L35.5,252.4 L36.1,251.0 L37.0,249.7 L37.4,248.2 L38.7,247.6 L39.2,246.2 L41.3,246.4 L41.9,245.1 L42.7,244.0 L41.8,242.4 L41.8,240.7 L42.0,239.0 L41.4,237.3 L41.3,235.5 L39.8,235.1 L38.2,235.0 L37.2,233.2 L35.9,232.4 L34.1,232.6 L32.6,232.4 L31.0,232.1 L29.4,232.5 L28.0,231.5 L26.5,231.8 L25.3,230.9 L24.0,230.6 L22.8,229.8 L22.1,228.3 L20.2,228.1 L19.0,227.2 L18.5,225.5 L20.0,224.8 L20.3,223.3 L20.6,221.7 L22.0,221.0 L22.8,219.8 L23.2,218.1 L24.9,217.7 L26.6,217.3 L27.0,215.6 L28.4,214.9 L29.0,213.5 L29.2,211.9 L30.2,210.9 L31.3,209.9 L30.1,208.7 L30.3,206.8 L29.3,205.6 L28.5,204.2 L27.7,203.0 L26.0,202.8 L24.8,202.1 L24.3,200.4 L22.8,200.0 L23.4,198.4 L22.8,197.0 L22.4,195.6 L22.2,194.1 L21.3,192.8 L19.6,193.4 L18.7,195.1 L17.0,195.6 L5.0,194.2 Z"/>
<path d="M91.8,244.9 L93,244.2 L93.4,245.5 L92.2,245.9 Z"/>
<path d="M25,301.5 L28,299.8 L33,300 L35,302 L31,303.8 L26,303.5 Z"/>
<path d="M227.3,90 L233,90 L233.9,95.9 L236.9,99.4 L238.7,102.9 L239.6,107.3 L242.6,106.9 L243.5,109.9 L244.4,114.3 L243.1,118.7 L241.8,113.4 L241.3,111.2 L236,111.2 L233.4,109.5 L230.8,113.4 L229,119.6 L227.7,121.3 L226,117.8 L225.5,109.9 L226.8,103.8 L226.4,96.8 Z"/>
<path d="M65.6,278.7 A1.2,0.7 0 1,0 67.9,278.7 A1.2,0.7 0 1,0 65.6,278.7 Z M62.5,281.4 A1.0,0.8 0 1,0 64.4,281.4 A1.0,0.8 0 1,0 62.5,281.4 Z M60.9,281.9 A0.9,0.6 0 1,0 62.7,281.9 A0.9,0.6 0 1,0 60.9,281.9 Z M59.0,283.1 A1.1,0.7 0 1,0 61.3,283.1 A1.1,0.7 0 1,0 59.0,283.1 Z M57.9,284.2 A0.9,0.5 0 1,0 59.8,284.2 A0.9,0.5 0 1,0 57.9,284.2 Z M53.3,285.5 A1.2,0.7 0 1,0 55.7,285.5 A1.2,0.7 0 1,0 53.3,285.5 Z M51.2,286.3 A1.0,0.5 0 1,0 53.2,286.3 A1.0,0.5 0 1,0 51.2,286.3 Z M47.8,287.5 A0.7,0.5 0 1,0 49.2,287.5 A0.7,0.5 0 1,0 47.8,287.5 Z M45.4,287.0 A0.7,0.6 0 1,0 46.8,287.0 A0.7,0.6 0 1,0 45.4,287.0 Z M43.8,287.7 A0.7,0.7 0 1,0 45.2,287.7 A0.7,0.7 0 1,0 43.8,287.7 Z M41.7,288.7 A0.5,0.8 0 1,0 42.7,288.7 A0.5,0.8 0 1,0 41.7,288.7 Z M40.0,289.4 A0.5,0.7 0 1,0 41.0,289.4 A0.5,0.7 0 1,0 40.0,289.4 Z M37.3,289.1 A0.5,0.5 0 1,0 38.4,289.1 A0.5,0.5 0 1,0 37.3,289.1 Z M34.7,290.7 A1.2,0.5 0 1,0 37.0,290.7 A1.2,0.5 0 1,0 34.7,290.7 Z M32.6,291.1 A0.6,0.7 0 1,0 33.8,291.1 A0.6,0.7 0 1,0 32.6,291.1 Z M28.5,288.6 A0.6,0.5 0 1,0 29.6,288.6 A0.6,0.5 0 1,0 28.5,288.6 Z M25.1,283.8 A0.9,0.5 0 1,0 26.9,283.8 A0.9,0.5 0 1,0 25.1,283.8 Z M24.4,281.0 A0.6,0.7 0 1,0 25.6,281.0 A0.6,0.7 0 1,0 24.4,281.0 Z M24.3,277.7 A0.9,0.6 0 1,0 26.1,277.7 A0.9,0.6 0 1,0 24.3,277.7 Z M25.5,276.1 A0.8,0.6 0 1,0 27.1,276.1 A0.8,0.6 0 1,0 25.5,276.1 Z M28.7,273.5 A1.1,0.5 0 1,0 30.9,273.5 A1.1,0.5 0 1,0 28.7,273.5 Z M30.9,270.4 A0.6,0.6 0 1,0 32.0,270.4 A0.6,0.6 0 1,0 30.9,270.4 Z M31.6,269.0 A0.8,0.8 0 1,0 33.3,269.0 A0.8,0.8 0 1,0 31.6,269.0 Z M34.3,265.2 A1.0,0.6 0 1,0 36.3,265.2 A1.0,0.6 0 1,0 34.3,265.2 Z M34.4,264.6 A1.2,0.8 0 1,0 36.8,264.6 A1.2,0.8 0 1,0 34.4,264.6 Z M33.8,261.3 A0.6,0.5 0 1,0 34.9,261.3 A0.6,0.5 0 1,0 33.8,261.3 Z M33.3,257.0 A1.0,0.7 0 1,0 35.4,257.0 A1.0,0.7 0 1,0 33.3,257.0 Z M34.4,251.4 A0.7,0.6 0 1,0 35.8,251.4 A0.7,0.6 0 1,0 34.4,251.4 Z M36.6,246.7 A1.0,0.6 0 1,0 38.5,246.7 A1.0,0.6 0 1,0 36.6,246.7 Z M37.6,246.0 A1.0,0.6 0 1,0 39.6,246.0 A1.0,0.6 0 1,0 37.6,246.0 Z M40.4,242.9 A0.7,0.7 0 1,0 41.9,242.9 A0.7,0.7 0 1,0 40.4,242.9 Z M39.9,241.8 A1.1,0.7 0 1,0 42.1,241.8 A1.1,0.7 0 1,0 39.9,241.8 Z M39.2,236.5 A0.6,0.7 0 1,0 40.5,236.5 A0.6,0.7 0 1,0 39.2,236.5 Z M38.3,236.7 A1.0,0.5 0 1,0 40.3,236.7 A1.0,0.5 0 1,0 38.3,236.7 Z M35.1,235.3 A0.8,0.6 0 1,0 36.7,235.3 A0.8,0.6 0 1,0 35.1,235.3 Z M31.3,233.2 A0.6,0.6 0 1,0 32.5,233.2 A0.6,0.6 0 1,0 31.3,233.2 Z M27.8,233.5 A0.9,0.4 0 1,0 29.6,233.5 A0.9,0.4 0 1,0 27.8,233.5 Z M26.3,232.4 A0.7,0.5 0 1,0 27.8,232.4 A0.7,0.5 0 1,0 26.3,232.4 Z M24.1,232.1 A0.8,0.6 0 1,0 25.7,232.1 A0.8,0.6 0 1,0 24.1,232.1 Z M20.0,230.0 A0.8,0.5 0 1,0 21.6,230.0 A0.8,0.5 0 1,0 20.0,230.0 Z M18.8,228.8 A0.8,0.4 0 1,0 20.3,228.8 A0.8,0.4 0 1,0 18.8,228.8 Z M16.4,224.4 A0.9,0.8 0 1,0 18.3,224.4 A0.9,0.8 0 1,0 16.4,224.4 Z M18.8,221.1 A0.9,0.5 0 1,0 20.7,221.1 A0.9,0.5 0 1,0 18.8,221.1 Z M19.7,219.5 A1.2,0.8 0 1,0 22.0,219.5 A1.2,0.8 0 1,0 19.7,219.5 Z M21.5,218.4 A0.6,0.6 0 1,0 22.6,218.4 A0.6,0.6 0 1,0 21.5,218.4 Z M23.9,215.5 A1.1,0.6 0 1,0 26.2,215.5 A1.1,0.6 0 1,0 23.9,215.5 Z M25.6,213.7 A0.8,0.8 0 1,0 27.1,213.7 A0.8,0.8 0 1,0 25.6,213.7 Z M27.3,211.1 A1.2,0.6 0 1,0 29.6,211.1 A1.2,0.6 0 1,0 27.3,211.1 Z M28.2,209.7 A0.7,0.6 0 1,0 29.6,209.7 A0.7,0.6 0 1,0 28.2,209.7 Z M27.7,207.8 A0.7,0.7 0 1,0 29.1,207.8 A0.7,0.7 0 1,0 27.7,207.8 Z M26.3,205.2 A1.2,0.7 0 1,0 28.6,205.2 A1.2,0.7 0 1,0 26.3,205.2 Z M24.6,203.7 A1.2,0.5 0 1,0 27.0,203.7 A1.2,0.5 0 1,0 24.6,203.7 Z M22.1,202.3 A0.9,0.7 0 1,0 23.9,202.3 A0.9,0.7 0 1,0 22.1,202.3 Z"/>
</g>
<g fill="#ececec" stroke="#8a8a8a" stroke-width="0.5">
<path d="M266.3,154.1 L268,149.4 L272.8,142.3 L274.5,141.7 L278.1,142.8 L276.3,144 L272.8,146.4 L269.2,151.1 Z"/>
<path d="M281.7,141.7 L283.4,136.3 L288.2,132.8 L291.7,126.8 L296.5,125.7 L300,123.3 L301.8,125.1 L300.6,126.8 L296.5,128.6 L292.9,131.6 L289.4,135.1 L285.2,138.7 Z"/>
<path d="M279,151.5 L281.5,150.2 L283.6,151 L281.5,152.8 Z"/>
</g>
<g clip-path="url(#jp)"><g filter="url(#bl)">
<rect x="50" y="120" width="230" height="270" fill="#f7eace"/>
<path fill="#8bb4df" d="M224.7,127 L230,127 L230.5,134.2 L225,134 Z"/>
<path fill="#8bb4df" d="M214,127 L221,127 L221,137 L214,137 Z"/>
<path fill="#8bb4df" d="M231.8,139.6 L236.2,138.7 L236.2,144.9 L240.7,146.7 L245.1,149.3 L246,158.2 L242.4,158.2 L238,155.6 L234.4,158.2 L233.6,162.7 L227.3,164.4 L222.9,162.7 L223.8,157.3 L226.4,153.8 L228.2,146.7 L230,143.1 Z"/>
<path fill="#f7eace" d="M233.6,149.3 L238,150 L237.5,153.8 L234,153 Z"/>
<path fill="#8bb4df" d="M237.0,169.8 A1.8,1.8 0 1,0 240.60000000000002,169.8 A1.8,1.8 0 1,0 237.0,169.8 Z"/>
<path fill="#8bb4df" d="M231.8,176.8 A1.7,1.7 0 1,0 235.2,176.8 A1.7,1.7 0 1,0 231.8,176.8 Z"/>
<path fill="#8bb4df" d="M261,146 L265,143 L264.7,150.2 L262,150 Z"/>
<path fill="#8bb4df" d="M263.8,159 L270,158 L269,162.7 L264,162.7 Z"/>
<path fill="#8bb4df" d="M249.6,148 L253,148.4 L253,151 L250,151 Z"/>
<path fill="#8bb4df" d="M227.1,170 A1.4,1.4 0 1,0 229.9,170 A1.4,1.4 0 1,0 227.1,170 Z"/>
<path fill="#8bb4df" d="M210,183 L214,182.5 L214,186 L210.5,186 Z"/>
<path fill="#8bb4df" d="M205,186 L208,186 L208,189 L205,189 Z"/>
<path fill="#8bb4df" d="M202,170 L207,169 L207,176 L204,180 L206,189 L202,189 Z"/>
<path fill="#8bb4df" d="M214,184 L219,184 L218,188 Z"/>
<path fill="#8bb4df" d="M219,189 L223,189 L222,197 L219.5,195 Z"/>
<path fill="#8bb4df" d="M201.3,212.2 L204,212.2 L204,215 L201.3,215 Z"/>
<path fill="#8bb4df" d="M164,252.5 L168,250 L173,249 L172,252 L169,254 L167,256 L164.5,256 Z"/>
<path fill="#8bb4df" d="M183.5,239 L186,238 L186,241 L183.5,242 Z"/>
<path fill="#8bb4df" d="M227.2,217.7 L230,217.7 L230,220.4 L227.2,220.4 Z"/>
<path fill="#f3d9a6" d="M211,234 L216,233 L217.5,240 L214,244 L211,241 Z"/>
<path fill="#f3d9a6" d="M209,246 L214,245 L215,252 L210,253 Z"/>
<path fill="#8bb4df" d="M215,189.5 L219,189.5 L218.5,193 L215.5,193.5 Z"/>
<path fill="#8bb4df" d="M220.5,190.5 L222.3,191 L222,196 L220.8,195 Z"/>
<path fill="#f3d9a6" d="M150,266 L165,258 L180,254 L205,254 L212,258 L214,262 L200,268 L190,292 L160,300 L148,285 Z"/>
<path fill="#f2b264" d="M190,262 L201,258 L214,261 L218,272 L216,287 L208,292 L196,292 L189,284 L188,272 Z"/>
<path fill="#8bb4df" d="M170,261.2 L180.8,258.1 L191.6,257.3 L202.4,258.1 L201.6,264.2 L194.7,267.3 L190.9,272 L188.6,275 L189.3,282 L185.5,285.8 L176.2,285.8 L170,282.7 L165.4,278.1 L163.1,272 L164.7,265.8 Z"/>
<path fill="#8bb4df" d="M190,256 L197,253 L203,253 L203,259 L194,262 Z"/>
<path fill="#ee6a30" d="M197.8,270.4 L205.5,267.3 L210.9,268.1 L213.2,276.6 L211.7,285.8 L207,288.9 L202.4,284.3 L199.3,278.1 Z"/>
<path fill="#f3d9a6" d="M40,270 L150,270 L160,278 L160,320 L40,360 Z"/>
<path fill="#f2b264" d="M148,280 L166,278 L178,286 L180,294 L162,300 L156,312 L146,306 L140,290 Z"/>
<path fill="#f3d9a6" d="M143,300 L155,296 L161,300 L154,312 L146,310 Z"/>
<path fill="#ee6a30" d="M157.7,284 L163,281.2 L167,283 L166,290 L161,292 L158,290 Z"/>
<path fill="#f7eace" d="M108,280 L134,278 L134,288 L108,290 Z"/>
<path fill="#f2b264" d="M103,291.5 L125,287.5 L146,284 L148,296 L104,300 Z"/>
<path fill="#ee6a30" d="M123.4,289.5 L131.9,288.5 L131.9,293.5 L123.4,294.5 Z"/>
<path fill="#ee6a30" d="M143,289 L150,289 L147.5,295 L145,301 L142,300 Z"/>
<path fill="#ee6a30" d="M87.5,296 L93.5,295 L93.5,300 L88,300 Z"/>
<path fill="#f7eace" d="M112,302 L128,300 L128,308 L114,310 Z"/>
<path fill="#f2b264" d="M104,310 L113,307 L113,321 L105,321 Z"/>
<path fill="#ee6a30" d="M131.4,302.5 A1.6,1.6 0 1,0 134.6,302.5 A1.6,1.6 0 1,0 131.4,302.5 Z"/>
<path fill="#ee6a30" d="M60,298 L102,298 L102,350 L60,350 Z"/>
<path fill="#f2b264" d="M88,308 L100,310 L99,322 L94,334 L88,332 Z"/>
<path fill="#f3d9a6" d="M84,310 L94,309 L95,324 L90,332 L83,326 Z"/>
<path fill="#f7eace" d="M87,314 L92,313 L92,322 L88,325 Z"/>
<path fill="#e04532" d="M64,306 L74,304 L75,316 L76,330 L72,322 Z"/>
<path fill="#e04532" d="M76,336 L84,336 L86,344 L76,342 Z"/>
<path fill="#ee6a30" d="M80,346 L88,346 L88,356 L80,356 Z"/>
<path fill="#f3d9a6" d="M74,352 L80,352 L80,358 L74,358 Z"/>
<path fill="#ee6a30" d="M54,380 L66,380 L68,390 L54,390 Z"/>
<path fill="#8bb4df" d="M64,284 L72,284 L72,295 L64,295 Z"/>
<path fill="#ee6a30" d="M54,307 L65,307 L65,318 L54,318 Z"/>
</g>
<path fill="#8bb4df" d="M250.8,160 A1.2,1.2 0 1,0 253.2,160 A1.2,1.2 0 1,0 250.8,160 Z"/>
<path fill="#8bb4df" d="M224.0,131 A1.0,1.0 0 1,0 226.0,131 A1.0,1.0 0 1,0 224.0,131 Z"/>
<path fill="#2878c0" d="M176.8,264.2 L178.5,264.2 L178.3,270.4 L176.6,270.4 Z"/>
<path fill="#ee6a30" d="M150.8,303 A1.2,1.2 0 1,0 153.2,303 A1.2,1.2 0 1,0 150.8,303 Z"/>
<path fill="#8bb4df" d="M125.4,306.9 A0.8,0.8 0 1,0 127.0,306.9 A0.8,0.8 0 1,0 125.4,306.9 Z"/>
</g>
<path d="M153.5,281 L155.5,280.5 L157,282.5 L156.5,286.5 L154.5,285.5 L153.8,283 Z" fill="#fff"/>
<g fill="none" stroke="#333" stroke-width="0.55">
<path d="M224.3,128.9 L227.9,128 L231.4,133.3 L235.9,139.6 L241.2,144 L248.3,148.4 L253.7,149.3 L259,151.1 L261.7,148.4 L264.3,144.9 L262.6,152 L261.7,155.6 L265.2,158.2 L269.7,159.1 L266.1,161.8 L262.6,164.4 L255.4,167.1 L248.3,170.7 L243.9,174.2 L242.1,181.3 L237.8,179 L234,177 L230.2,174.2 L226.4,173.3 L222.6,172.3 L219.3,173.7 L217,175.6 L216.5,177.5 L215,175.2 L211.7,174.2 L209.4,176.1 L208.4,178.5 L210.3,180.4 L213.6,181.3 L217,183.2 L218.4,185.1 L215,185.6 L211.3,186.5 L209.4,188 L207.5,188.9 L205.6,187.5 L205.1,182.7 L204.2,178 L203.2,174.2 L203.7,171.4 L207.5,169.5 L210.3,167.6 L211.3,165.7 L209.8,163.8 L209.4,162.4 L210.3,161.4 L212.2,161.9 L213.2,163.8 L217,163.3 L220.3,165.2 L221.2,160 L223.4,151.1 L224.3,143.1 L223.4,136 Z"/>
<path d="M209.5,193.9 L211.3,195.1 L211.9,198 L213.7,199.2 L215.5,196.8 L218.4,198 L219.6,195.7 L217.3,194.5 L214.9,192.1 L215.5,189.7 L218.4,190.3 L222,191.5 L221.4,196.8 L222,201.6 L224.4,205.1 L226.7,208.7 L227.9,213.4 L229.1,219.4 L227.9,225.3 L225.5,230 L222.6,237.1 L219.1,238.5 L216.2,242.8 L215.5,249.9 L216.2,257 L214.8,264.1 L211.9,269.8 L213.4,275.5 L215,278.2 L212,281.5 L209.2,284.9 L206,287.5 L204,289.5 L202.4,290.7 L202,288 L202.5,284.5 L204,281 L203.5,279.8 L202,281.5 L200.8,284.4 L199.8,287 L198.5,286 L196,285.5 L193.6,286.5 L193.2,288.5 L192,293 L190.2,294.5 L189,290.7 L188.3,287.7 L184.8,289.2 L181.8,292.2 L178,293.8 L175,293.2 L170.3,293.1 L167,294.5 L165.5,294.9 L166.5,291 L166.7,287.5 L165.5,286.8 L163,287.5 L161.4,288 L162.5,290.5 L162,293.7 L164.3,297.2 L161.5,301 L158.4,305.5 L155,308.5 L151.3,311.4 L147.8,311.4 L145.4,310.2 L141.8,304.3 L142.9,297.2 L146.6,293.7 L146,291.3 L143,290.7 L138.3,291.3 L131.2,292.7 L125.5,294.1 L118.4,295.6 L113.2,296.6 L109.9,297.4 L107.4,295.7 L105.7,298.2 L104,301.5 L101.6,299.9 L96.6,299.9 L92.4,299 L88.3,298.2 L87.9,294.9 L89.1,292.4 L92.4,292.4 L96.6,290.8 L99.9,289.1 L104,285.8 L109,283.3 L111.5,280 L115,278.3 L118.4,277.1 L124.1,279.2 L131.2,278.5 L136.9,277.1 L141.4,277.8 L144.9,276.3 L148.5,278.5 L152.7,279.9 L155.6,277.8 L156.3,273.5 L157.8,267.7 L160.7,264.9 L163.5,262 L164.6,259.2 L164.2,255.6 L165,252.4 L167.8,251 L171.3,250.3 L172.1,251.4 L169.2,253.5 L168.5,256.3 L168.1,260.6 L169.2,261.3 L172.1,260.6 L174.2,258.5 L178.5,257.1 L182,255.3 L187.1,251.3 L191.3,246.4 L196.3,242.8 L198.4,240 L199.9,234.3 L201.8,230 L203.6,225.3 L204.8,220.5 L204.2,215.8 L201.8,213.4 L205.4,208.7 L203.6,204 L205.4,201.6 L209.5,199.2 L208.4,196.8 Z"/>
<path d="M101.7,309.9 L105.8,307.8 L109.1,305.7 L112.4,300.8 L116.6,302.4 L120.7,301.6 L124,298.3 L128.2,297 L131.5,297.5 L134,299.1 L135.6,301.6 L136.5,304.9 L134,307.4 L130.7,309.9 L129,313.2 L126.5,309.9 L122.4,309.1 L118.2,310.7 L114.1,314 L111.6,318.2 L109.9,320.7 L107.5,319 L106.6,314.9 L105.8,310.7 Z"/>
<path d="M66.4,309.3 L69.4,306.5 L73.1,305.5 L76.8,304.8 L80.5,304 L83.6,301.5 L86.6,300.3 L88.5,301.5 L90.3,304.6 L94,305.9 L97.1,308.3 L95.9,311.4 L98.9,314.5 L99.6,316.9 L97.7,320.6 L96.5,324.3 L94,330.5 L92.2,335.4 L89.1,339.1 L86,341.6 L83.6,343.4 L81.7,342.8 L82.3,339.1 L81.1,335.4 L79.2,337.9 L78,340.3 L76.2,339.7 L74.9,339.1 L74.3,336.6 L76.2,332.9 L76.8,329.3 L79.9,326.8 L81.1,322.5 L81.5,318 L80.5,312.6 L79,310.8 L76.5,310.5 L75,313 L74.8,317 L74.5,320 L74.2,324 L73.6,327 L72.8,324.2 L73.5,321.4 L71.4,320 L70.5,317 L69.3,313.5 L68,311 Z"/>
<path d="M184,240 L186.5,238.5 L187,241 L185,243.5 L186,246 L183.5,246.5 L184.5,243 Z"/>
<path d="M137,293.5 L139.5,292.8 L140,296 L138,299.5 L136.8,297 Z"/>
<path d="M77.3,317.5 L79.3,316.5 L79.8,319.5 L78.8,322.5 L77.2,322 Z"/>
<path d="M75.5,312.5 L77.5,312 L77,314.5 L75.8,314.5 Z"/>
<path d="M216.5,129 L218,130 L217.5,132 L216,131 Z"/>
<path d="M218.5,133 L220,133.5 L219.5,135 L218,134.5 Z"/>
<path d="M65.8,286.5 L68,286 L70.4,289 L69,293.5 L67,292 Z"/>
<path d="M57,314 L60,311 L63,309 L62,313 L58,316 Z"/>
<path d="M117,267.5 L119,266 L120,268 L118,269.5 Z"/>
<path d="M121,266 L123,265 L122.5,267.5 Z"/>
<path d="M81.2,354.8 L83.5,350.5 L85.2,348 L85.5,350 L83,354.5 Z"/>
<path d="M75.2,354.8 A1.7,1.6 0 1,0 78.6,354.8 A1.7,1.6 0 1,0 75.2,354.8 Z"/>
<path d="M55.3,387 L58,384.5 L63.3,382.5 L61.5,385 L57,388.5 Z"/>
<path d="M66.3,385.2 L67.6,385 L67.4,386.3 L66.3,386.3 Z"/>
<path d="M72,351.8 L73.2,352 L72.8,353 Z"/>
<path d="M68.5,360 L69.5,360.2 L69,361.2 Z"/>
<path d="M66.5,364 L67.5,364 L67,365.2 Z"/>
<path d="M63.5,367 L64.5,367 L64.2,368 Z"/>
<path d="M70.5,331 L72,330 L71.5,332 Z"/>
<path d="M200.5,297 L202,296.5 L201.5,298 Z"/>
<path d="M200.3,318 L201.8,318.2 L201.5,319.5 L200.4,319.3 Z"/>
<path d="M200.6,328.2 L201.4,328.3 L201.2,329.1 Z"/>
<path d="M204.5,343.2 L205.2,343.3 L205,344 Z"/>
<path d="M207,358 L207.8,358.1 L207.6,358.9 Z"/>
</g>
</g>
<circle cx="220.6" cy="165.6" r="1.5" fill="#111" stroke="#fff" stroke-width="0.6"/>
<circle cx="201.3" cy="279.3" r="1.5" fill="#111" stroke="#fff" stroke-width="0.6"/>
<circle cx="165.5" cy="286.2" r="1.5" fill="#111" stroke="#fff" stroke-width="0.6"/>
<circle cx="147.1" cy="291.7" r="1.5" fill="#111" stroke="#fff" stroke-width="0.6"/>
<circle cx="80.9" cy="304.1" r="1.5" fill="#111" stroke="#fff" stroke-width="0.6"/>
</g>
<rect x="6.5" y="90.5" width="299" height="299.2" fill="none" stroke="#c4c4c4" stroke-width="1"/>
<rect x="305.5" y="90.5" width="298" height="299.2" fill="none" stroke="#c4c4c4" stroke-width="1"/>
<line x1="305.5" y1="90" x2="305.5" y2="390" stroke="#a8a8a8" stroke-width="1"/>
<line x1="6" y1="90.9" x2="604" y2="90.9" stroke="#b0b0b0" stroke-width="1.2"/>
</svg>
<div class="cl" style="left:177.5px;top:150.2px">Sapporo</div>
<div class="cl" style="left:211px;top:283px">Tōkyō</div>
<div class="cl" style="left:168.2px;top:297.3px">Nagoya</div>
<div class="cl" style="left:154.5px;top:307.5px">Ōsaka</div>
<div class="cl" style="left:40.5px;top:291.7px">Fukuoka</div>
<div class="cl" style="left:478.0px;top:150.2px">Sapporo</div>
<div class="cl" style="left:511.5px;top:283px">Tōkyō</div>
<div class="cl" style="left:468.7px;top:297.3px">Nagoya</div>
<div class="cl" style="left:455.0px;top:307.5px">Ōsaka</div>
<div class="cl" style="left:341.0px;top:291.7px">Fukuoka</div>


<div class="t" style="left:6.5px;top:407px;font-size:12px;color:#333">Source: Woodwell Climate Research Center</div>
</body></html>
